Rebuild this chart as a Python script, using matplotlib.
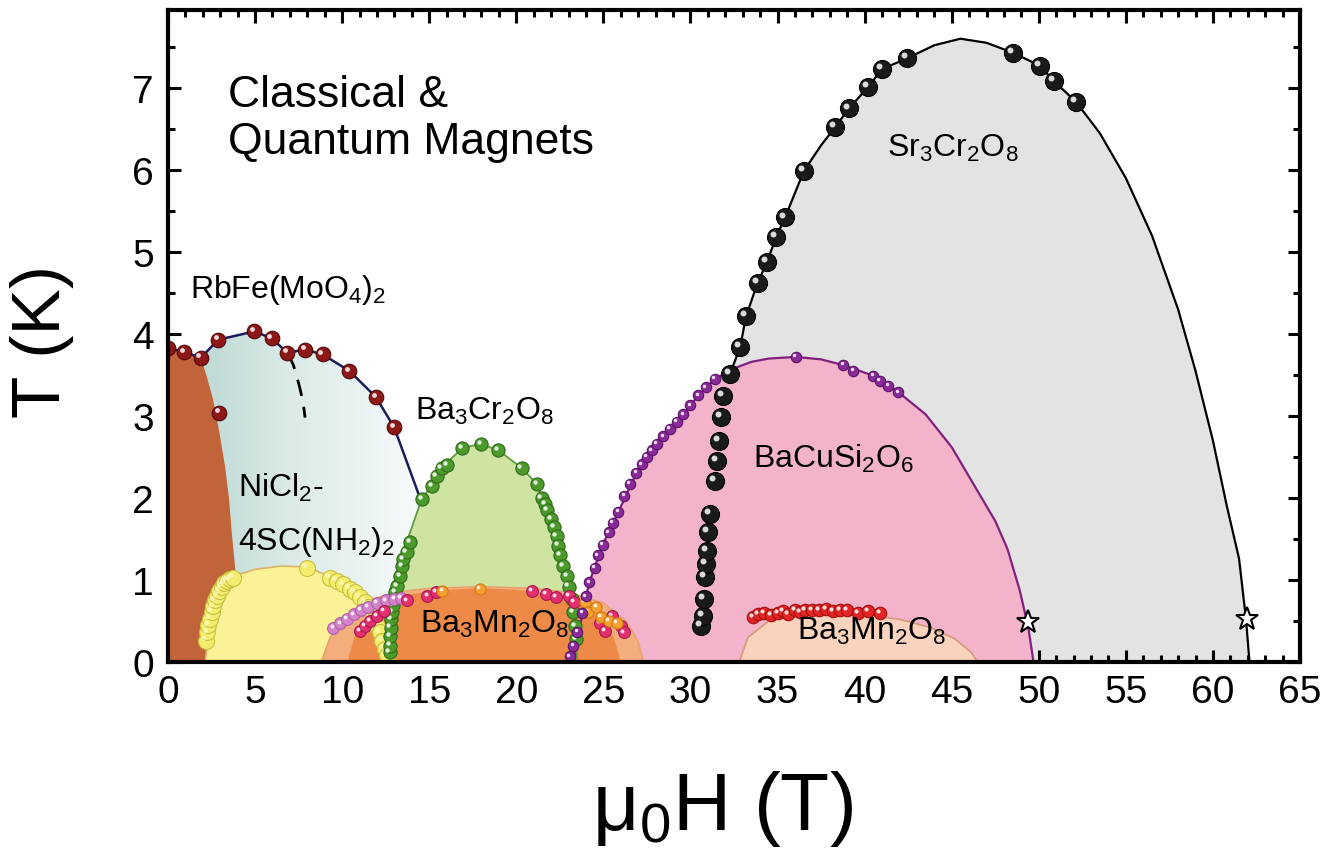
import matplotlib
matplotlib.use("Agg")
import matplotlib.pyplot as plt
import numpy as np
from matplotlib.colors import LinearSegmentedColormap
from matplotlib.patches import Polygon
from matplotlib.transforms import offset_copy

NARROW = ['Liberation Sans Narrow', 'Arial Narrow', 'Liberation Sans', 'DejaVu Sans']
REGULAR = ['Liberation Sans', 'DejaVu Sans']
plt.rcParams['font.family'] = NARROW
plt.rcParams['mathtext.fontset'] = 'custom'
plt.rcParams['mathtext.rm'] = 'Liberation Sans'
plt.rcParams['mathtext.default'] = 'regular'

# ---- Sr3Cr2O8 ----
sr_pts_x = [30.61, 30.72, 30.78, 30.84, 30.89, 30.95, 31.01, 31.12, 31.41, 31.52, 31.64, 31.75,
            31.87, 32.27, 32.85, 33.2, 33.85, 34.4, 34.92, 35.43, 36.52, 38.3, 39.1, 40.2,
            41.0, 42.43, 48.5, 50.07, 50.88, 52.14]
sr_pts_y = [0.44, 0.56, 0.77, 1.04, 1.20, 1.35, 1.59, 1.80, 2.21, 2.45, 2.70, 2.99,
            3.24, 3.51, 3.84, 4.22, 4.62, 4.88, 5.18, 5.42, 5.99, 6.52, 6.75, 7.01,
            7.23, 7.36, 7.43, 7.27, 7.08, 6.83]
sr_line_x = [32.27, 32.85, 33.2, 33.85, 34.4, 34.92, 35.43, 36.52, 37.5, 38.3, 39.1, 40.2, 41.0,
             42.43, 44.0, 45.5, 47.0, 48.5, 50.07, 50.88, 52.14, 53.5, 55.0, 56.5, 58.0,
             59.0, 60.0, 60.8, 61.5, 61.9, 62.1]
sr_line_y = [3.51, 3.84, 4.22, 4.62, 4.88, 5.18, 5.42, 5.99, 6.3, 6.52, 6.75, 7.01, 7.23,
             7.36, 7.52, 7.6, 7.55, 7.43, 7.27, 7.08, 6.83, 6.45, 5.9, 5.2, 4.3,
             3.55, 2.7, 1.9, 1.26, 0.52, 0.0]

# ---- BaCuSi2O6 ----
bc_pts_x = [23.08, 23.27, 23.5, 23.8, 24.0, 24.19, 24.52, 24.7, 24.96, 25.3, 25.55, 25.86,
            26.2, 26.5, 26.9, 27.2, 27.49, 27.8, 28.06, 28.45, 28.83, 29.2, 29.59, 30.0,
            30.45, 30.9, 31.41, 36.06, 38.78, 39.36, 40.5, 40.88, 41.36, 41.94]
bc_pts_y = [0.07, 0.20, 0.37, 0.60, 0.80, 0.97, 1.15, 1.30, 1.43, 1.58, 1.70, 1.83,
            2.03, 2.17, 2.31, 2.41, 2.50, 2.58, 2.66, 2.75, 2.84, 2.93, 3.02, 3.13,
            3.25, 3.35, 3.45, 3.72, 3.62, 3.55, 3.49, 3.43, 3.37, 3.29]
bc_line_x = [23.3, 23.8, 24.19, 24.96, 25.86, 26.82, 27.49, 28.06, 28.83, 29.59, 30.45, 31.41,
             32.5, 33.5, 34.5, 36.06, 37.5, 38.78, 40.5, 41.94, 43.5, 45.0, 46.5, 47.5,
             48.2, 48.9, 49.4, 49.7]
bc_line_y = [0.0, 0.6, 0.97, 1.43, 1.83, 2.27, 2.50, 2.66, 2.84, 3.02, 3.25, 3.45,
             3.58, 3.66, 3.70, 3.72, 3.69, 3.62, 3.49, 3.29, 3.02, 2.62, 2.08, 1.72,
             1.38, 0.88, 0.42, 0.0]

# ---- Ba3Cr2O8 ----
cr_pts_x = [12.72, 12.75, 12.75, 12.78, 12.8, 12.84, 12.9, 12.97, 13.03, 13.15, 13.32, 13.42,
            13.5, 13.7, 13.9, 14.57, 15.14, 15.42, 15.71, 16.0, 16.91, 17.97, 18.97, 20.3,
            21.17, 21.45, 21.65, 21.78, 22.0, 22.15, 22.31, 22.41, 22.51, 22.7, 22.9, 23.0,
            23.18, 23.27, 23.37, 23.42]
cr_pts_y = [0.12, 0.2, 0.32, 0.42, 0.52, 0.61, 0.69, 0.77, 0.85, 0.93, 1.05, 1.17,
            1.26, 1.34, 1.46, 1.99, 2.15, 2.27, 2.37, 2.40, 2.61, 2.66, 2.58, 2.37,
            2.17, 2.00, 1.93, 1.85, 1.74, 1.64, 1.54, 1.42, 1.30, 1.17, 1.05, 0.92,
            0.77, 0.61, 0.44, 0.28]
cr_line_x = [12.6, 12.75, 12.84, 13.03, 13.32, 13.5, 13.9, 14.57, 15.14, 15.71, 16.91,
             17.97, 18.97, 20.3, 21.17, 21.78, 22.31, 22.9, 23.18, 23.37, 23.5]
cr_line_y = [0.0, 0.5, 0.77, 0.93, 1.17, 1.34, 1.58, 1.99, 2.15, 2.37, 2.61,
             2.66, 2.58, 2.37, 2.17, 1.85, 1.54, 1.05, 0.77, 0.44, 0.0]

# ---- RbFe(MoO4)2 ----
rb_pts_x = [0.02, 0.94, 1.88, 2.89, 4.94, 5.95, 6.85, 7.87, 8.88, 10.41, 11.94, 12.99, 2.95]
rb_pts_y = [3.83, 3.78, 3.71, 3.93, 4.03, 3.95, 3.77, 3.81, 3.75, 3.55, 3.23, 2.86, 3.04]
rb_line_x = [0.0, 0.94, 1.88, 2.89, 4.94, 5.95, 6.85, 7.87, 8.88, 10.41, 11.94, 12.99, 14.4]
rb_line_y = [3.83, 3.78, 3.71, 3.93, 4.03, 3.95, 3.77, 3.81, 3.75, 3.55, 3.23, 2.86, 2.04]
rb_dash_x = [6.9, 7.2, 7.5, 7.75, 7.87]
rb_dash_y = [3.76, 3.62, 3.40, 3.18, 2.98]

# ---- NiCl2-4SC(NH2)2 ----
ni_edge_x = [0.0, 0.0, 0.94, 1.88, 2.2, 2.58, 2.95, 3.27, 3.5, 3.66, 3.9, 4.05, 4.1]
ni_edge_y = [0.0, 3.83, 3.78, 3.71, 3.5, 3.21, 2.8, 2.39, 2.0, 1.58, 1.05, 0.5, 0.0]
yl_line_x = [2.15, 2.3, 2.7, 3.3, 4.0, 5.0, 6.5, 8.0, 9.3, 10.45, 11.3, 11.9, 12.3, 12.6]
yl_line_y = [0.0, 0.35, 0.69, 0.97, 1.06, 1.13, 1.17, 1.16, 1.04, 0.89, 0.73, 0.52, 0.3, 0.0]
yl_pts_x = [2.18, 2.25, 2.32, 2.4, 2.5, 2.6, 2.7, 2.82, 2.95, 3.08, 3.22, 3.38, 3.55, 3.75,
            7.96, 9.3, 9.69, 10.06, 10.45, 10.74, 11.02, 11.31, 11.5, 11.7, 11.9, 12.0,
            12.17, 12.3, 12.45, 12.56]
yl_pts_y = [0.26, 0.36, 0.45, 0.53, 0.61, 0.68, 0.75, 0.81, 0.87, 0.92, 0.96, 0.99, 1.01, 1.03,
            1.15, 1.03, 0.99, 0.95, 0.89, 0.85, 0.79, 0.73, 0.67, 0.60, 0.52, 0.44,
            0.36, 0.26, 0.16, 0.08]

# ---- Ba3Mn2O8 (low field) ----
mn_outer_x = [8.8, 9.3, 10.2, 11.5, 13.0, 15.0, 18.0, 21.0, 23.0, 25.0, 26.3, 27.0, 27.3]
mn_outer_y = [0.0, 0.3, 0.55, 0.75, 0.85, 0.9, 0.92, 0.9, 0.85, 0.72, 0.5, 0.25, 0.0]
mn_inner_x = [10.3, 10.7, 11.5, 12.5, 14.0, 16.0, 18.0, 20.0, 22.0, 23.5, 24.8, 25.6, 26.0]
mn_inner_y = [0.0, 0.3, 0.55, 0.72, 0.83, 0.88, 0.9, 0.88, 0.83, 0.72, 0.55, 0.3, 0.0]
lav_x = [9.5, 9.9, 10.3, 10.7, 11.1, 11.5, 12.0, 12.5, 13.0, 13.4]
lav_y = [0.42, 0.47, 0.53, 0.58, 0.63, 0.67, 0.72, 0.75, 0.77, 0.78]
mag_x = [11.0, 11.3, 11.6, 12.0, 12.4, 13.7, 14.9, 15.4, 20.9, 21.7, 22.3, 23.0, 23.3,
         24.8, 25.1, 25.5, 26.0, 26.2]
mag_y = [0.38, 0.44, 0.50, 0.56, 0.62, 0.75, 0.81, 0.85, 0.87, 0.83, 0.79, 0.81, 0.73,
         0.48, 0.38, 0.56, 0.44, 0.36]
org_x = [15.76, 17.9, 23.94, 24.1, 24.6, 24.85, 25.3, 25.76]
org_y = [0.87, 0.89, 0.73, 0.61, 0.67, 0.55, 0.50, 0.48]

# ---- Ba3Mn2O8 (high field) ----
mnh_line_x = [32.8, 33.3, 34.5, 36.0, 38.0, 40.0, 42.0, 43.8, 45.2, 46.1, 46.5]
mnh_line_y = [0.0, 0.3, 0.5, 0.58, 0.6, 0.58, 0.52, 0.42, 0.28, 0.12, 0.0]
red_x = [33.6, 33.9, 34.2, 34.6, 35.0, 35.3, 35.6, 36.0, 36.3, 36.6, 37.0, 37.4, 37.8, 38.2,
         38.6, 39.0, 39.6, 40.2, 40.9]
red_y = [0.55, 0.58, 0.6, 0.57, 0.6, 0.62, 0.59, 0.63, 0.61, 0.64, 0.63, 0.64, 0.65, 0.62,
         0.64, 0.63, 0.6, 0.62, 0.6]

star_x = [49.4, 61.96]
star_y = [0.49, 0.52]

xticks = [0, 5, 10, 15, 20, 25, 30, 35, 40, 45, 50, 55, 60, 65]
yticks = [0, 1, 2, 3, 4, 5, 6, 7]

fig = plt.figure(figsize=(13.26, 8.53), dpi=100)
ax = fig.add_axes([168 / 1326, 190 / 853, 1132 / 1326, 652 / 853])


def ball(x, y, color, edge, ms, z, hl='white', hl_alpha=0.85):
    ax.plot(x, y, 'o', ms=ms, mfc=color, mec=edge, mew=0.8, ls='none', zorder=z)
    tr = offset_copy(ax.transData, fig=fig, x=-ms * 0.16, y=ms * 0.16, units='points')
    ax.plot(x, y, 'o', ms=ms * 0.33, mfc=hl, mec='none', alpha=hl_alpha, ls='none',
            zorder=z + 0.01, transform=tr)


# region fills
ax.fill(sr_line_x + [sr_line_x[0]], sr_line_y + [0], color='#e3e3e3', lw=0, zorder=1)
ax.fill(bc_line_x, bc_line_y, color='#f2b3cb', lw=0, zorder=2)

rb_poly = Polygon(list(zip(rb_line_x, rb_line_y)) + list(zip(cr_line_x[7::-1], cr_line_y[7::-1]))
                  + [(0, 0)], closed=True, facecolor='none', edgecolor='none')
ax.add_patch(rb_poly)
grad = LinearSegmentedColormap.from_list('rb', ['#b5d3ce', '#dcebe8', '#f8fbfb'])
im = ax.imshow(np.linspace(0, 1, 256).reshape(1, -1), cmap=grad, aspect='auto',
               extent=[0, 14.5, 0, 4.1], zorder=1.5, interpolation='bicubic')
im.set_clip_path(rb_poly)
ax.set_xlim(0, 65)
ax.set_ylim(0, 7.95)

ax.fill(cr_line_x, cr_line_y, color='#cfe4a3', lw=0, zorder=2.2)
ax.fill(ni_edge_x, ni_edge_y, color='#c2643a', lw=0, zorder=2.3)
ax.fill(yl_line_x, yl_line_y, color='#fbf196', ec='#d9b36a', lw=1.2, zorder=2.4)
ax.fill(mn_outer_x, mn_outer_y, color='#f4ae7c', ec='#e9a06c', lw=1, zorder=2.5)
ax.fill(mn_inner_x, mn_inner_y, color='#ee8a48', lw=0, zorder=2.6)
ax.fill(mnh_line_x, mnh_line_y, color='#f9d3bd', ec='#d49a78', lw=1.2, zorder=2.5)

# phase boundary lines
ax.plot(sr_line_x, sr_line_y, color='black', lw=1.6, zorder=3)
ax.plot(bc_line_x, bc_line_y, color='#80207f', lw=1.6, zorder=3)
ax.plot(cr_line_x, cr_line_y, color='#5f9a3c', lw=1.3, zorder=3)
ax.plot(rb_line_x, rb_line_y, color='#1c1c5c', lw=1.8, zorder=3)
ax.plot(rb_dash_x, rb_dash_y, color='black', lw=2.0, ls=(0, (6, 4)), zorder=3)

# data points
ball(yl_pts_x, yl_pts_y, '#f3ec6c', '#c8c040', 11.5, 4, hl='#fffbd0', hl_alpha=0.6)
ball(cr_pts_x, cr_pts_y, '#4c9a2c', '#2f6a18', 9.5, 4.2)
ball(lav_x, lav_y, '#d483c8', '#b060a8', 8.5, 4.3)
ball(mag_x, mag_y, '#e2306f', '#a81850', 8.5, 4.4)
ball(org_x, org_y, '#f5a030', '#d07a10', 8, 4.5)
ball(bc_pts_x, bc_pts_y, '#8a2a98', '#5a1066', 7.5, 4.6)
ball(rb_pts_x, rb_pts_y, '#8e1818', '#4e0808', 10.5, 4.7)
ball(red_x, red_y, '#e22424', '#a01010', 9, 4.8)
ball(sr_pts_x, sr_pts_y, '#1a1a1a', 'black', 13, 5, hl='#f0f0f0', hl_alpha=0.9)
ax.plot(star_x, star_y, '*', ms=17, mfc='white', mec='black', mew=1.5, ls='none', zorder=6)

# labels
lab = dict(fontsize=23, ha='left', va='baseline', zorder=7, family=NARROW)
ax.text(41.3, 6.17, r'Sr$_3$Cr$_2$O$_8$', **lab)
ax.text(33.6, 2.38, r'BaCuSi$_2$O$_6$', **lab)
ax.text(14.2, 2.96, r'Ba$_3$Cr$_2$O$_8$', **lab)
ax.text(1.26, 4.45, r'RbFe(MoO$_4$)$_2$', **lab)
ax.text(4.0, 2.02, r'NiCl$_2$-', **lab)
ax.text(4.0, 1.38, r'4SC(NH$_2$)$_2$', **lab)
ax.text(14.45, 0.37, r'Ba$_3$Mn$_2$O$_8$', **lab)
ax.text(36.1, 0.28, r'Ba$_3$Mn$_2$O$_8$', **lab)
ax.text(3.45, 7.17, 'Classical &\nQuantum Magnets', fontsize=32, ha='left', va='top',
        linespacing=1.2, family=REGULAR, zorder=7)

# axes styling
ax.set_xticks(xticks)
ax.set_yticks(yticks)
ax.set_xticks(np.arange(0, 66, 1), minor=True)
ax.set_yticks(np.arange(0, 8, 0.5), minor=True)
ax.tick_params(which='both', direction='in', top=True, right=True, width=2.2, labelsize=28)
ax.tick_params(which='major', length=9)
ax.tick_params(which='minor', length=5)
ax.tick_params(axis='x', pad=9)
ax.tick_params(axis='y', pad=10)
for s in ax.spines.values():
    s.set_linewidth(3)
    s.set_zorder(10)

fig.text(722 / 1326, 23 / 853, r'μ$_0$H (T)', fontsize=58, ha='center', va='baseline',
         family=NARROW)
fig.text(42 / 1326, 511 / 853, 'T (K)', fontsize=50, rotation=90, ha='center', va='center',
         family=REGULAR)

fig.savefig('out.png', dpi=100, facecolor='white')
